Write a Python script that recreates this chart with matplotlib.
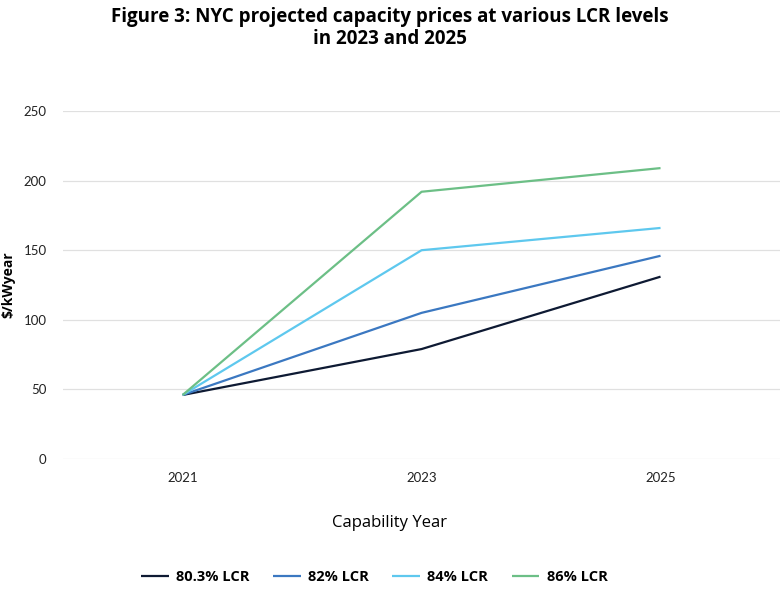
import numpy as np
from matplotlib import pyplot as plt

years = ["2021", "2023", "2025"]
series_names = ["80.3% LCR", "82% LCR", "84% LCR", "86% LCR"]
lcr_803 = [46, 79, 131]
lcr_82 = [46, 105, 146]
lcr_84 = [46, 150, 166]
lcr_86 = [46, 192, 209]
colors = ["#0e1a33", "#3b78c1", "#5ec8ee", "#6cbf86"]

plt.rcParams['font.family'] = ['Lato', 'DejaVu Sans']
wide = ['Open Sans', 'DejaVu Sans']

fig = plt.figure(figsize=(7.8, 5.89), dpi=100)
ax = fig.add_axes([0.081, 0.2207, 0.919, 0.5908])

x = np.arange(len(years))
for vals, name, col in zip([lcr_803, lcr_82, lcr_84, lcr_86], series_names, colors):
    ax.plot(x, vals, color=col, lw=1.6, label=name, solid_capstyle='butt')

ax.set_xlim(-0.5, 2.5)
ax.set_ylim(0, 250)
ax.set_yticks(range(0, 251, 50))
ax.set_xticks(x)
ax.set_xticklabels(years)
ax.grid(axis='y', color='#e0e0e0', lw=0.9)
ax.set_axisbelow(True)
for s in ax.spines.values():
    s.set_visible(False)
ax.tick_params(length=0, labelsize=9.5, colors='#222222')
ax.tick_params(axis='y', pad=12)
ax.tick_params(axis='x', pad=9)

fig.text(0.5, 0.988, "Figure 3: NYC projected capacity prices at various LCR levels\nin 2023 and 2025",
         ha='center', va='top', fontsize=13.5, fontweight='bold', linespacing=1.15,
         family=wide)
fig.text(0.011, 0.516, "$/kWyear", rotation=90, ha='center', va='center',
         fontsize=10, fontweight='bold', family=wide)
fig.text(0.5, 0.112, "Capability Year", ha='center', va='center', fontsize=12, family=wide)

fig.legend(loc='center', bbox_to_anchor=(0.48, 0.02), ncol=4, frameon=False,
           prop={'weight': 'bold', 'size': 10.5, 'family': wide}, handlelength=1.9,
           columnspacing=1.6, handletextpad=0.5)

fig.savefig("out.png", dpi=100)
